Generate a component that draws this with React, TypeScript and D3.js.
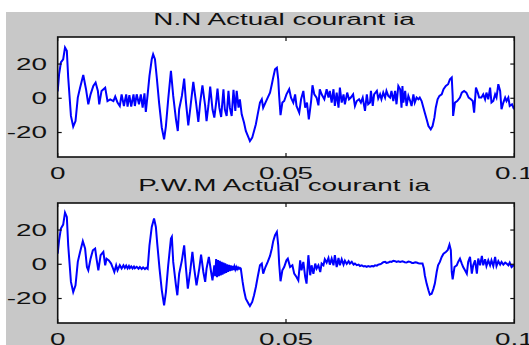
import React from "react";
import * as d3 from "d3";

// [time (x 0.01 s), current ia]
const nnSamples: [number, number][] = [
  [0,4],[0.03,14],[0.07,20.9],[0.12,22.8],[0.16,29.6],[0.20,27.7],[0.23,12.1],[0.29,-10.3],[0.34,-16.6],[0.39,-13.3],[0.44,0.4],[0.49,6.2],[0.56,13.6],[0.62,5.3],[0.67,-3.5],[0.72,2.3],[0.78,7.2],[0.83,9.2],[0.88,4.3],[0.91,-3.5],[0.96,4.3],[1.04,6.2],[1.09,-1.6],[1.15,-0.6],[1.22,-1.6],[1.26,1.0],[1.31,-2.5],[1.36,-4.5],[1.40,2.3],[1.45,-4.5],[1.50,2.3],[1.53,-4.9],[1.57,1.8],[1.61,-4.9],[1.66,2.3],[1.69,-4.5],[1.73,2.3],[1.78,-3.5],[1.82,2.3],[1.86,-5.5],[1.90,2.9],[1.93,-8.0],[1.97,2.3],[2.01,13.1],[2.06,22.8],[2.09,25.7],[2.13,22.8],[2.17,12.1],[2.22,-2.5],[2.28,-17.2],[2.33,-24.0],[2.37,-16.2],[2.42,-0.6],[2.48,16.0],[2.53,1.4],[2.59,-12.3],[2.63,-19.1],[2.66,-6.4],[2.72,1.4],[2.77,11.5],[2.81,-2.5],[2.86,-15.8],[2.91,-4.5],[2.97,9.6],[3.03,-2.5],[3.08,-13.8],[3.12,-2.5],[3.17,7.6],[3.23,-4.5],[3.26,-13.3],[3.30,-4.5],[3.34,6.8],[3.39,-6.4],[3.43,-11.3],[3.47,-2.5],[3.50,5.7],[3.54,-5.5],[3.58,-10.9],[3.63,5.3],[3.66,-6.4],[3.70,-10.3],[3.74,4.3],[3.77,-5.5],[3.81,-10.3],[3.85,4.9],[3.89,-7.4],[3.92,4.3],[3.96,-5.5],[3.99,-0.6],[4.03,-9.4],[4.08,-14.2],[4.12,-19.1],[4.18,-23.0],[4.21,-25.0],[4.26,-23.0],[4.30,-19.1],[4.34,-15.2],[4.38,-9.4],[4.43,-2.5],[4.47,-0.6],[4.50,-5.5],[4.55,-2.5],[4.60,0.4],[4.65,3.3],[4.69,8.2],[4.72,12.1],[4.76,17.0],[4.80,17.9],[4.83,11.1],[4.85,1.4],[4.88,-9.9],[4.92,-2.5],[4.96,-1.6],[5.01,2.3],[5.07,5.3],[5.11,0.4],[5.16,-2.5],[5.20,2.3],[5.23,-4.5],[5.29,-8.4],[5.33,-0.6],[5.38,4.3],[5.42,-5.5],[5.46,-2.5],[5.50,-12.3],[5.55,-1.6],[5.58,7.6],[5.62,2.3],[5.67,0.4],[5.71,-4.1],[5.74,5.3],[5.78,2.3],[5.84,-0.6],[5.89,5.3],[5.93,0.4],[5.96,4.3],[6.00,-2.5],[6.04,5.3],[6.07,-4.5],[6.11,3.3],[6.15,-5.5],[6.18,6.2],[6.22,-2.5],[6.26,2.3],[6.29,-3.5],[6.34,3.3],[6.38,-0.6],[6.42,0.4],[6.47,2.3],[6.51,-4.5],[6.55,-1.6],[6.60,-0.6],[6.64,-2.5],[6.68,0.4],[6.73,-7.4],[6.77,2.3],[6.80,-3.5],[6.84,-2.5],[6.86,4.3],[6.90,-4.5],[6.93,2.3],[6.99,4.3],[7.02,-0.2],[7.06,2.3],[7.09,-0.6],[7.13,3.3],[7.17,0.4],[7.20,4.3],[7.24,1.4],[7.28,0.4],[7.31,4.3],[7.35,-1.6],[7.39,4.3],[7.42,-3.5],[7.46,7.2],[7.50,5.3],[7.53,-5.5],[7.55,7.2],[7.57,-2.5],[7.61,4.3],[7.64,-4.5],[7.68,1.4],[7.72,-1.6],[7.75,-4.5],[7.79,2.3],[7.82,-2.5],[7.86,0.4],[7.90,-0.6],[7.93,0.4],[7.97,-1.6],[8.01,-5.5],[8.04,-8.4],[8.08,-12.3],[8.12,-16.2],[8.17,-18.1],[8.21,-16.2],[8.25,-11.3],[8.28,-5.5],[8.32,-0.6],[8.36,1.4],[8.41,2.3],[8.45,5.3],[8.50,7.2],[8.55,8.2],[8.59,11.1],[8.63,12.1],[8.65,1.4],[8.66,-10.3],[8.70,-2.5],[8.75,-1.6],[8.81,0.4],[8.85,3.3],[8.90,4.3],[8.95,3.3],[9.00,0.4],[9.05,-0.6],[9.09,-1.6],[9.12,-8.4],[9.16,6.2],[9.20,3.3],[9.23,0.4],[9.28,0.4],[9.32,2.3],[9.36,-0.6],[9.39,3.3],[9.43,-0.6],[9.47,6.2],[9.50,-2.5],[9.54,-1.6],[9.58,2.3],[9.61,0.4],[9.65,8.2],[9.69,4.3],[9.72,-6.4],[9.76,-2.5],[9.80,0.4],[9.83,-1.6],[9.87,0.4],[9.90,-4.5],[9.95,-3.5],[9.98,-5.5],[10.0,-4.5]
];

const pwmSamples: [number, number][] = [
  [0,6.2],[0.03,14],[0.07,20.9],[0.12,23.2],[0.16,30.2],[0.20,27.7],[0.23,11.1],[0.29,-10.3],[0.34,-16.2],[0.39,-12.3],[0.44,1.4],[0.49,7.2],[0.55,13.5],[0.60,9.2],[0.64,-1.6],[0.67,-3.5],[0.72,3.3],[0.77,8.2],[0.82,9.2],[0.85,3.3],[0.89,-3.5],[0.94,5.3],[1.00,7.2],[1.04,-0.6],[1.07,3.3],[1.12,2.3],[1.17,0.4],[1.20,-1.6],[1.24,-4.5],[1.28,-0.6],[1.31,-3.5],[1.36,-0.6],[1.40,-2.5],[1.44,-0.6],[1.47,-2.1],[1.50,-0.8],[1.53,-2.4],[1.56,-1.0],[1.58,-2.2],[1.61,-1.2],[1.64,-2.4],[1.67,-1.3],[1.69,-2.3],[1.73,-1.5],[1.77,-2.6],[1.80,-1.6],[1.84,-2.7],[1.87,-1.8],[1.91,-2.8],[1.94,-2.0],[1.97,-2.6],[2.01,11.1],[2.06,21.8],[2.11,26.7],[2.15,21.8],[2.18,12.1],[2.23,-2.5],[2.28,-15.2],[2.33,-24.0],[2.37,-16.2],[2.42,-0.6],[2.48,15.0],[2.50,16.0],[2.53,1.4],[2.59,-12.3],[2.62,-18.1],[2.66,-5.5],[2.72,2.3],[2.77,11.1],[2.81,-2.5],[2.85,-14.2],[2.90,-4.5],[2.95,7.2],[2.99,-2.5],[3.04,-12.3],[3.10,-2.5],[3.14,5.7],[3.19,-4.5],[3.23,-10.3],[3.26,-2.5],[3.31,4.3],[3.36,-4.5],[3.39,-9.4],[3.43,-0.6],[3.45,-7],[3.47,3],[3.49,-7.5],[3.51,2.5],[3.53,-7],[3.55,2],[3.57,-6.5],[3.59,1.5],[3.61,-6],[3.63,1],[3.65,-5.5],[3.67,0.5],[3.69,-5],[3.71,0],[3.73,-4.5],[3.75,-0.3],[3.77,-4],[3.79,-0.6],[3.81,-3.7],[3.83,-1],[3.85,-3.4],[3.87,-1.3],[3.89,-3.1],[3.91,-1.6],[3.93,-2.9],[3.95,-1.9],[3.97,-2.7],[3.99,-2.1],[4.01,-2.5],[4.05,-10.3],[4.08,-15.2],[4.12,-20.1],[4.18,-23.0],[4.21,-24.4],[4.26,-22.0],[4.30,-18.1],[4.34,-13.3],[4.38,-7.4],[4.43,-0.6],[4.47,0.4],[4.50,-5.5],[4.55,-1.6],[4.60,1.4],[4.65,4.9],[4.69,9.2],[4.72,13.5],[4.76,17.0],[4.80,18.9],[4.83,11.1],[4.85,0.4],[4.88,-9.9],[4.92,-3.5],[4.96,-1.6],[5.01,2.3],[5.04,3.3],[5.09,-1.6],[5.14,-0.6],[5.18,-5.5],[5.23,-7.4],[5.27,-9.4],[5.31,2.3],[5.34,-3.5],[5.38,1.4],[5.42,-7.4],[5.45,-11.3],[5.49,5.3],[5.53,-6.4],[5.56,-0.6],[5.60,-5.5],[5.64,0.4],[5.67,-2.5],[5.71,-0.6],[5.75,-4.5],[5.78,0.4],[5.82,-0.6],[5.85,2.9],[5.89,1.0],[5.93,3.7],[5.96,-0.2],[6.00,3.3],[6.04,-0.6],[6.07,5.3],[6.11,-1.6],[6.15,3.7],[6.18,-0.6],[6.22,2.9],[6.26,-0.2],[6.29,2.1],[6.33,0.2],[6.37,1.8],[6.40,0.4],[6.44,1.4],[6.48,-0.2],[6.51,0.4],[6.55,-0.5],[6.59,-0.2],[6.62,-1.0],[6.66,-0.6],[6.70,-1.3],[6.73,-1.0],[6.77,-1.5],[6.80,-1.0],[6.84,-1.4],[6.88,-1.0],[6.92,-1.2],[6.95,-0.6],[6.99,-0.8],[7.02,-0.2],[7.06,0.0],[7.09,0.4],[7.13,1.2],[7.17,1.4],[7.20,0.8],[7.24,1.0],[7.28,1.6],[7.31,1.4],[7.35,2.0],[7.39,1.8],[7.42,1.4],[7.46,1.8],[7.50,1.4],[7.55,1.8],[7.60,1.2],[7.64,1.0],[7.68,1.6],[7.72,1.4],[7.76,0.8],[7.79,0.8],[7.83,1.2],[7.86,1.0],[7.90,0.6],[7.93,0.4],[7.99,0.4],[8.02,-2.5],[8.04,-6.4],[8.08,-11.3],[8.12,-15.2],[8.15,-17.7],[8.19,-17.2],[8.23,-14.2],[8.26,-11.3],[8.30,-4.5],[8.33,-0.6],[8.37,1.4],[8.41,4.3],[8.45,6.2],[8.50,7.2],[8.54,8.2],[8.58,11.5],[8.61,8.2],[8.63,-4.5],[8.65,-8.8],[8.69,-1.6],[8.74,-0.6],[8.77,1.4],[8.81,3.3],[8.85,0.4],[8.88,-1.6],[8.92,-3.5],[8.96,-5.5],[8.99,1.4],[9.03,4.3],[9.07,-5.5],[9.10,-0.6],[9.14,2.3],[9.18,-5.5],[9.21,3.3],[9.25,-0.6],[9.29,4.9],[9.32,-0.6],[9.36,2.9],[9.39,-1.0],[9.43,2.3],[9.47,-0.6],[9.50,2.3],[9.54,-1.0],[9.58,4.3],[9.61,-1.0],[9.65,1.8],[9.69,-0.2],[9.72,1.4],[9.76,-0.2],[9.80,1.0],[9.83,0.4],[9.87,-0.6],[9.90,1.0],[9.94,-1.6],[10.0,-0.2]
];

const titles = ["N.N Actual courant ia", "P.W.M Actual courant ia"];
const xTicks = [0, 0.05, 0.1];
const xTickLabels = ["0", "0.05", "0.1"];
const yTicks = [20, 0, -20];
const yTickLabels = ["20", "0", "-20"];
const xDomain = [0, 0.1];
const yDomain = [-34.3, 35.8];
const timeUnit = 0.01; // sample times are in hundredths of a second

const W = 529;
const H = 345;
const LEFT = 57.7;
const RIGHT = 514.3;
const SX = 1.74;
const FONT = "'Liberation Sans', Arial, Helvetica, sans-serif";

function Panel({ title, data, top, bottom, idx }: { title: string; data: [number, number][]; top: number; bottom: number; idx: number }) {
  const x = d3.scaleLinear().domain(xDomain).range([LEFT, RIGHT]);
  const y = d3.scaleLinear().domain(yDomain).range([bottom, top]);
  const line = d3
    .line<[number, number]>()
    .x((d) => x(d[0] * timeUnit))
    .y((d) => y(d[1]));
  const cx = 284;
  const tick = 4;
  return (
    <g>
      <defs>
        <clipPath id={`clip${idx}`}>
          <rect x={LEFT} y={top} width={RIGHT - LEFT} height={bottom - top} />
        </clipPath>
      </defs>
      <rect x={LEFT} y={top} width={RIGHT - LEFT} height={bottom - top} fill="#fff" />
      <path d={line(data) || ""} fill="none" stroke="#0000ff" strokeWidth={2} strokeLinejoin="miter" clipPath={`url(#clip${idx})`} />
      <rect x={LEFT} y={top} width={RIGHT - LEFT} height={bottom - top} fill="none" stroke="#111" strokeWidth={1.6} />
      {yTicks.map((v, i) => (
        <g key={"y" + i}>
          <line x1={LEFT} x2={LEFT + tick} y1={y(v)} y2={y(v)} stroke="#111" strokeWidth={1.2} />
          <line x1={RIGHT} x2={RIGHT - tick} y1={y(v)} y2={y(v)} stroke="#111" strokeWidth={1.2} />
          <text transform={`translate(47,${y(v) + 5.8}) scale(${SX},1)`} textAnchor="end" fontFamily={FONT} fontSize={16} fill="#111">
            {yTickLabels[i]}
          </text>
        </g>
      ))}
      {xTicks.map((v, i) => (
        <g key={"x" + i}>
          <line x1={x(v)} x2={x(v)} y1={top} y2={top + tick} stroke="#111" strokeWidth={1.2} />
          <line x1={x(v)} x2={x(v)} y1={bottom} y2={bottom - tick} stroke="#111" strokeWidth={1.2} />
          <text transform={`translate(${x(v)},${bottom + 21.5}) scale(${SX},1)`} textAnchor="middle" fontFamily={FONT} fontSize={16} fill="#111">
            {xTickLabels[i]}
          </text>
        </g>
      ))}
      <text transform={`translate(${cx},${top - 12}) scale(${SX},1)`} textAnchor="middle" fontFamily={FONT} fontSize={16} fill="#111">
        {title}
      </text>
    </g>
  );
}

export default function App() {
  return (
    <svg width={W} height={H} style={{ position: "absolute", left: 0, top: 0, display: "block" }}>
      <rect x={0} y={0} width={W} height={H} fill="#fff" />
      <rect x={6} y={12} width={W - 6} height={H - 12} fill="#c8c8c8" />
      <Panel title={titles[0]} data={nnSamples} top={37} bottom={157} idx={0} />
      <Panel title={titles[1]} data={pwmSamples} top={203} bottom={323} idx={1} />
    </svg>
  );
}
